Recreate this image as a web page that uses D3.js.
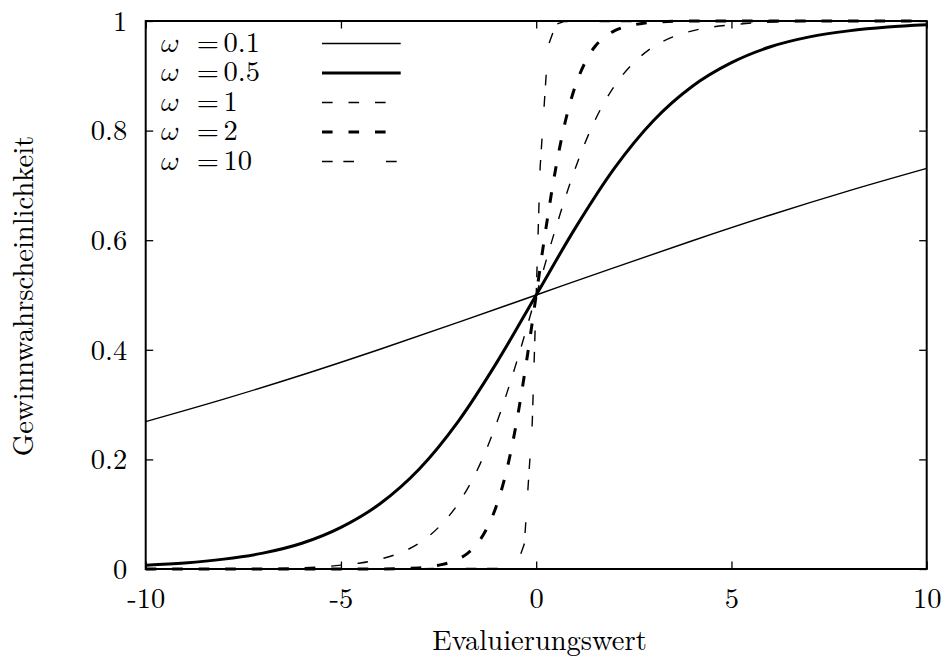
<!DOCTYPE html>
<html>
<head>
<meta charset="utf-8">
<script src="https://cdn.jsdelivr.net/npm/d3@7/dist/d3.min.js"></script>
<style>
  html, body { margin: 0; padding: 0; background: #fff; }
  svg { display: block; }
</style>
</head>
<body>
<svg id="chart" width="948" height="660"></svg>
<script>
// ---- data ----
const omegaLabels = ["0.1", "0.5", "1", "2", "10"];

const w01X = [-10, -8, -6, -4, -2, 0, 2, 4, 6, 8, 10];
const w01Y = [0.269, 0.310, 0.354, 0.401, 0.450, 0.500, 0.550, 0.599, 0.646, 0.690, 0.731];

const w05X = [-10, -9, -8, -7, -6, -5, -4, -3, -2, -1, 0, 1, 2, 3, 4, 5, 6, 7, 8, 9, 10];
const w05Y = [0.007, 0.011, 0.018, 0.029, 0.047, 0.076, 0.119, 0.182, 0.269, 0.378, 0.500,
              0.622, 0.731, 0.818, 0.881, 0.924, 0.953, 0.971, 0.982, 0.989, 0.993];

const w1X = [-10, -8, -6, -5, -4.5, -4, -3.5, -3, -2.5, -2, -1.5, -1, -0.5, 0,
             0.5, 1, 1.5, 2, 2.5, 3, 3.5, 4, 4.5, 5, 6, 8, 10];
const w1Y = [0.000, 0.000, 0.002, 0.007, 0.011, 0.018, 0.029, 0.047, 0.076, 0.119, 0.182, 0.269, 0.378, 0.500,
             0.622, 0.731, 0.818, 0.881, 0.924, 0.953, 0.971, 0.982, 0.989, 0.993, 0.998, 1.000, 1.000];

const w2X = [-10, -5, -4, -3, -2.5, -2.25, -2, -1.75, -1.5, -1.25, -1, -0.75, -0.5, -0.25, 0,
             0.25, 0.5, 0.75, 1, 1.25, 1.5, 1.75, 2, 2.25, 2.5, 3, 4, 5, 10];
const w2Y = [0.000, 0.000, 0.000, 0.002, 0.007, 0.011, 0.018, 0.029, 0.047, 0.076, 0.119, 0.182, 0.269, 0.378, 0.500,
             0.622, 0.731, 0.818, 0.881, 0.924, 0.953, 0.971, 0.982, 0.989, 0.993, 0.998, 1.000, 1.000, 1.000];

const w10X = [-10, -0.707, -0.505, -0.303, -0.101, 0.101, 0.303, 0.505, 0.707, 10];
const w10Y = [0.000, 0.001, 0.006, 0.046, 0.267, 0.733, 0.954, 0.994, 0.999, 1.000];

const xTickValues = [-10, -5, 0, 5, 10];
const xTickLabels = ["-10", "-5", "0", "5", "10"];
const yTickValues = [0, 0.2, 0.4, 0.6, 0.8, 1];
const yTickLabels = ["0", "0.2", "0.4", "0.6", "0.8", "1"];

const xTitle = "Evaluierungswert";
const yTitle = "Gewinnwahrscheinlichkeit";

// ---- layout ----
const FONT = '"Latin Modern Roman", "CMU Serif", "Liberation Serif", serif';
const MATHFONT = '"Latin Modern Math", "Latin Modern Roman", "CMU Serif", serif';
const L = 145.7, R = 926.7, T = 21, B = 569;
const svg = d3.select("#chart");
svg.append("rect").attr("width", 948).attr("height", 660).attr("fill", "#fff");

const x = d3.scaleLinear().domain([-10, 10]).range([L, R]);
const y = d3.scaleLinear().domain([0, 1]).range([B, T]);

const tickLen = 7.5;
const fs = 28.5;

// axes
const gB = svg.append("g").attr("transform", `translate(0,${B})`)
  .call(d3.axisBottom(x).tickValues(xTickValues).tickSize(-tickLen).tickPadding(19)
        .tickFormat((d, i) => xTickLabels[i]));
const gT = svg.append("g").attr("transform", `translate(0,${T})`)
  .call(d3.axisTop(x).tickValues(xTickValues).tickSize(-tickLen).tickFormat(""));
const gL = svg.append("g").attr("transform", `translate(${L},0)`)
  .call(d3.axisLeft(y).tickValues(yTickValues).tickSize(-tickLen).tickPadding(18.5)
        .tickFormat((d, i) => yTickLabels[i]));
const gR = svg.append("g").attr("transform", `translate(${R},0)`)
  .call(d3.axisRight(y).tickValues(yTickValues).tickSize(-tickLen).tickFormat(""));

[gB, gT, gL, gR].forEach(g => {
  g.attr("font-family", null).attr("font-size", null);
  g.select(".domain").remove();
  g.selectAll(".tick line").attr("stroke", "#000").attr("stroke-width", 1.3);
  g.selectAll("text").style("font-family", FONT).style("font-size", fs + "px").attr("fill", "#000");
});
gB.selectAll(".tick text").attr("dy", null).attr("y", 608 - B);
gL.selectAll(".tick text").attr("dy", null).attr("y", 9.3);

// frame
svg.append("rect").attr("x", L).attr("y", T).attr("width", R - L).attr("height", B - T)
  .attr("fill", "none").attr("stroke", "#000").attr("stroke-width", 2);

// titles
svg.append("text").attr("x", 539.5).attr("y", 650).attr("text-anchor", "middle")
  .style("font-family", FONT).style("font-size", fs + "px").attr("fill", "#000").text(xTitle);
svg.append("text").attr("transform", "translate(33,296) rotate(-90)").attr("text-anchor", "middle")
  .style("font-family", FONT).style("font-size", fs + "px").attr("fill", "#000").text(yTitle);

// series
const series = [
  { xs: w01X, ys: w01Y, width: 1.4, dash: null, curve: d3.curveMonotoneX },
  { xs: w05X, ys: w05Y, width: 3, dash: null, curve: d3.curveMonotoneX },
  { xs: w1X, ys: w1Y, width: 1.4, dash: "10.6,15.9", curve: d3.curveMonotoneX },
  { xs: w2X, ys: w2Y, width: 3, dash: "10.6,15.9", curve: d3.curveMonotoneX },
  { xs: w10X, ys: w10Y, width: 1.4, dash: "10.67,10.67,10.67,32", curve: d3.curveLinear }
];

series.forEach(s => {
  const pts = s.xs.map((v, i) => [v, s.ys[i]]);
  const line = d3.line().x(d => x(d[0])).y(d => y(d[1])).curve(s.curve);
  svg.append("path").attr("d", line(pts)).attr("fill", "none").attr("stroke", "#000")
    .attr("stroke-width", s.width).attr("stroke-dasharray", s.dash);
});

// legend
const legTop = 43.5, legStep = 29.5;
series.forEach((s, i) => {
  const ly = legTop + i * legStep;
  svg.append("line").attr("x1", 322).attr("x2", 400.7).attr("y1", ly).attr("y2", ly)
    .attr("stroke", "#000").attr("stroke-width", s.width).attr("stroke-dasharray", s.dash);
  const t = svg.append("text").attr("y", ly + 8.4).style("font-family", FONT)
    .style("font-size", fs + "px").attr("fill", "#000");
  t.append("tspan").attr("x", 161).style("font-family", MATHFONT).text("\u{1D714}");
  t.append("tspan").attr("x", 196.8).text("=");
  t.append("tspan").attr("x", 223.5).text(omegaLabels[i]);
});
</script>
</body>
</html>
